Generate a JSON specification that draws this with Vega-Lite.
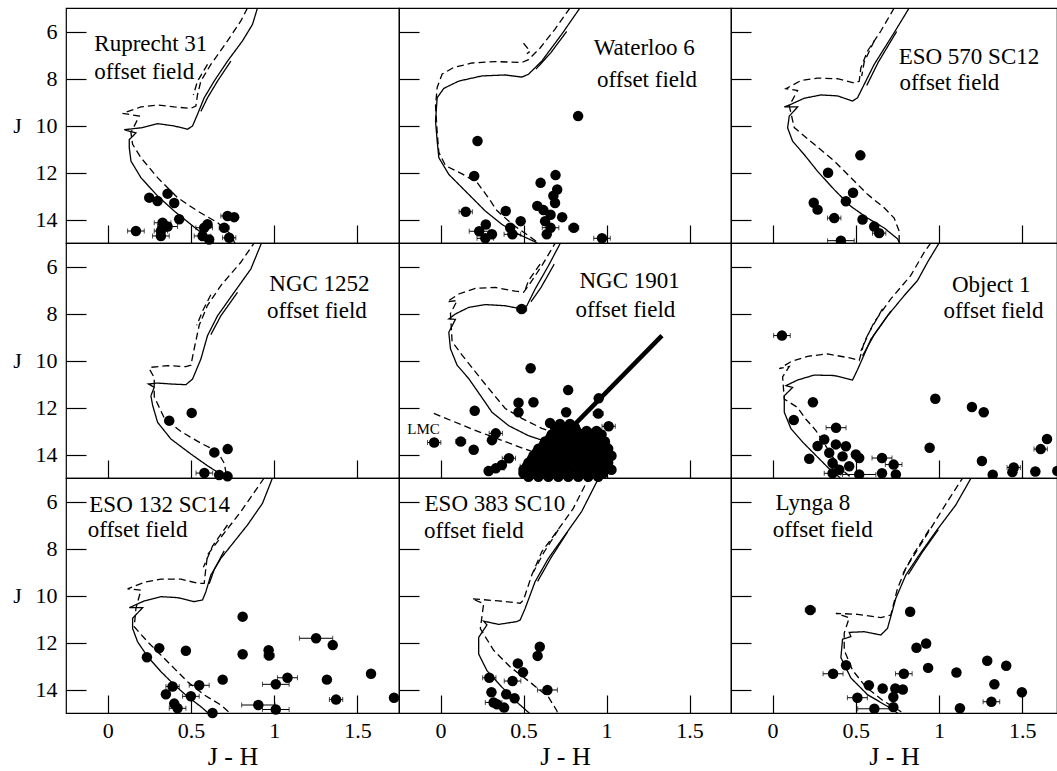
{
"$schema": "https://vega.github.io/schema/vega-lite/v6.json",
"background": "white",
"padding": {"left": 12, "top": 7, "right": 0, "bottom": 0},
"columns": 3,
"spacing": 0,
"bounds": "flush",
"config": {
  "view": {"stroke": "black", "strokeWidth": 1.2},
  "axis": {"domain": false, "ticks": false, "tickSize": 0, "grid": true, "gridColor": "black", "gridWidth": 1.2, "gridOpacity": 1, "labelFont": "Liberation Serif", "labelFontSize": 22, "labelColor": "black", "titleFont": "Liberation Serif", "titleFontSize": 22, "titleFontWeight": "normal", "titleColor": "black", "labelFlush": false, "labelOverlap": false}
},
"datasets": {
"iso": [
{"p":1,"k":"A","iso":"A","x":0.90,"j":5.0},{"p":1,"k":"A","iso":"A","x":0.87,"j":5.7},{"p":1,"k":"A","iso":"A","x":0.81,"j":6.4},{"p":1,"k":"A","iso":"A","x":0.72,"j":7.26},{"p":1,"k":"A","iso":"A","x":0.64,"j":8.11},{"p":1,"k":"A","iso":"A","x":0.58,"j":8.82},{"p":1,"k":"A","iso":"A","x":0.54,"j":9.52},{"p":1,"k":"A","iso":"A","x":0.51,"j":10.02},{"p":1,"k":"A","iso":"A","x":0.48,"j":10.16},{"p":1,"k":"A","iso":"A","x":0.40,"j":10.02},{"p":1,"k":"A","iso":"A","x":0.30,"j":9.92},{"p":1,"k":"A","iso":"A","x":0.21,"j":10.09},{"p":1,"k":"A","iso":"A","x":0.10,"j":10.18},{"p":1,"k":"A","iso":"A","x":0.17,"j":10.32},{"p":1,"k":"A","iso":"A","x":0.13,"j":10.6},{"p":1,"k":"A","iso":"A","x":0.13,"j":10.94},{"p":1,"k":"A","iso":"A","x":0.14,"j":11.51},{"p":1,"k":"A","iso":"A","x":0.20,"j":12.22},{"p":1,"k":"A","iso":"A","x":0.30,"j":13.0},{"p":1,"k":"A","iso":"A","x":0.40,"j":13.64},{"p":1,"k":"A","iso":"A","x":0.50,"j":14.21},{"p":1,"k":"A","iso":"A","x":0.60,"j":14.77},{"p":1,"k":"A","iso":"A","x":0.65,"j":15.1},
{"p":1,"k":"Aa","iso":"A","x":0.74,"j":7.26},{"p":1,"k":"Aa","iso":"A","x":0.66,"j":8.11},{"p":1,"k":"Aa","iso":"A","x":0.60,"j":8.82},{"p":1,"k":"Aa","iso":"A","x":0.56,"j":9.4},
{"p":1,"k":"B","iso":"B","x":0.84,"j":5.0},{"p":1,"k":"B","iso":"B","x":0.80,"j":5.55},{"p":1,"k":"B","iso":"B","x":0.72,"j":6.4},{"p":1,"k":"B","iso":"B","x":0.62,"j":7.4},{"p":1,"k":"B","iso":"B","x":0.56,"j":8.11},{"p":1,"k":"B","iso":"B","x":0.54,"j":8.68},{"p":1,"k":"B","iso":"B","x":0.53,"j":9.17},{"p":1,"k":"B","iso":"B","x":0.50,"j":9.27},{"p":1,"k":"B","iso":"B","x":0.40,"j":9.21},{"p":1,"k":"B","iso":"B","x":0.30,"j":9.13},{"p":1,"k":"B","iso":"B","x":0.20,"j":9.21},{"p":1,"k":"B","iso":"B","x":0.09,"j":9.48},{"p":1,"k":"B","iso":"B","x":0.19,"j":9.6},{"p":1,"k":"B","iso":"B","x":0.14,"j":10.3},{"p":1,"k":"B","iso":"B","x":0.15,"j":10.8},{"p":1,"k":"B","iso":"B","x":0.20,"j":11.37},{"p":1,"k":"B","iso":"B","x":0.30,"j":12.22},{"p":1,"k":"B","iso":"B","x":0.42,"j":13.07},{"p":1,"k":"B","iso":"B","x":0.54,"j":13.64},{"p":1,"k":"B","iso":"B","x":0.66,"j":14.13},{"p":1,"k":"B","iso":"B","x":0.74,"j":14.63},{"p":1,"k":"B","iso":"B","x":0.77,"j":15.1},
{"p":1,"k":"Ba","iso":"B","x":0.60,"j":7.4},{"p":1,"k":"Ba","iso":"B","x":0.54,"j":8.11},{"p":1,"k":"Ba","iso":"B","x":0.515,"j":8.7},

{"p":2,"k":"A","iso":"A","x":0.84,"j":5.0},{"p":2,"k":"A","iso":"A","x":0.73,"j":6.12},{"p":2,"k":"A","iso":"A","x":0.61,"j":7.26},{"p":2,"k":"A","iso":"A","x":0.53,"j":7.82},{"p":2,"k":"A","iso":"A","x":0.49,"j":7.94},{"p":2,"k":"A","iso":"A","x":0.39,"j":7.85},{"p":2,"k":"A","iso":"A","x":0.25,"j":7.89},{"p":2,"k":"A","iso":"A","x":0.11,"j":8.11},{"p":2,"k":"A","iso":"A","x":0.02,"j":8.42},{"p":2,"k":"A","iso":"A","x":-0.02,"j":8.82},{"p":2,"k":"A","iso":"A","x":-0.03,"j":9.81},{"p":2,"k":"A","iso":"A","x":-0.02,"j":10.66},{"p":2,"k":"A","iso":"A","x":-0.01,"j":11.37},{"p":2,"k":"A","iso":"A","x":0.05,"j":12.08},{"p":2,"k":"A","iso":"A","x":0.15,"j":12.79},{"p":2,"k":"A","iso":"A","x":0.27,"j":13.64},{"p":2,"k":"A","iso":"A","x":0.37,"j":14.21},{"p":2,"k":"A","iso":"A","x":0.47,"j":14.63},{"p":2,"k":"A","iso":"A","x":0.57,"j":14.95},{"p":2,"k":"A","iso":"A","x":0.60,"j":15.1},
{"p":2,"k":"Aa","iso":"A","x":0.76,"j":6.0},{"p":2,"k":"Aa","iso":"A","x":0.665,"j":6.9},{"p":2,"k":"Aa","iso":"A","x":0.575,"j":7.6},
{"p":2,"k":"B","iso":"B","x":0.78,"j":5.0},{"p":2,"k":"B","iso":"B","x":0.69,"j":5.9},{"p":2,"k":"B","iso":"B","x":0.60,"j":6.7},{"p":2,"k":"B","iso":"B","x":0.53,"j":7.2},{"p":2,"k":"B","iso":"B","x":0.49,"j":7.32},{"p":2,"k":"B","iso":"B","x":0.33,"j":7.28},{"p":2,"k":"B","iso":"B","x":0.19,"j":7.34},{"p":2,"k":"B","iso":"B","x":0.08,"j":7.53},{"p":2,"k":"B","iso":"B","x":0.01,"j":7.81},{"p":2,"k":"B","iso":"B","x":-0.02,"j":8.38},{"p":2,"k":"B","iso":"B","x":-0.03,"j":9.16},{"p":2,"k":"B","iso":"B","x":-0.02,"j":10.29},{"p":2,"k":"B","iso":"B","x":-0.01,"j":11.14},{"p":2,"k":"B","iso":"B","x":0.03,"j":11.71},{"p":2,"k":"B","iso":"B","x":0.13,"j":12.06},{"p":2,"k":"B","iso":"B","x":0.22,"j":12.42},{"p":2,"k":"B","iso":"B","x":0.28,"j":12.99},{"p":2,"k":"B","iso":"B","x":0.34,"j":13.62},{"p":2,"k":"B","iso":"B","x":0.43,"j":14.19},{"p":2,"k":"B","iso":"B","x":0.53,"j":14.69},{"p":2,"k":"B","iso":"B","x":0.61,"j":15.1},
{"p":2,"k":"Ba","iso":"B","x":0.50,"j":6.5},{"p":2,"k":"Ba","iso":"B","x":0.54,"j":6.84},{"p":2,"k":"Ba","iso":"B","x":0.52,"j":6.95},

{"p":3,"k":"A","iso":"A","x":0.82,"j":5.0},{"p":3,"k":"A","iso":"A","x":0.73,"j":6.05},{"p":3,"k":"A","iso":"A","x":0.61,"j":7.4},{"p":3,"k":"A","iso":"A","x":0.54,"j":8.39},{"p":3,"k":"A","iso":"A","x":0.51,"j":8.82},{"p":3,"k":"A","iso":"A","x":0.48,"j":8.96},{"p":3,"k":"A","iso":"A","x":0.39,"j":8.74},{"p":3,"k":"A","iso":"A","x":0.29,"j":8.70},{"p":3,"k":"A","iso":"A","x":0.19,"j":8.84},{"p":3,"k":"A","iso":"A","x":0.11,"j":9.10},{"p":3,"k":"A","iso":"A","x":0.07,"j":9.21},{"p":3,"k":"A","iso":"A","x":0.15,"j":9.21},{"p":3,"k":"A","iso":"A","x":0.10,"j":9.6},{"p":3,"k":"A","iso":"A","x":0.09,"j":10.1},{"p":3,"k":"A","iso":"A","x":0.12,"j":10.67},{"p":3,"k":"A","iso":"A","x":0.19,"j":11.24},{"p":3,"k":"A","iso":"A","x":0.27,"j":11.95},{"p":3,"k":"A","iso":"A","x":0.37,"j":12.73},{"p":3,"k":"A","iso":"A","x":0.47,"j":13.44},{"p":3,"k":"A","iso":"A","x":0.57,"j":13.94},{"p":3,"k":"A","iso":"A","x":0.67,"j":14.36},{"p":3,"k":"A","iso":"A","x":0.75,"j":14.82},{"p":3,"k":"A","iso":"A","x":0.77,"j":15.1},
{"p":3,"k":"Aa","iso":"A","x":0.745,"j":6.0},{"p":3,"k":"Aa","iso":"A","x":0.635,"j":7.3},{"p":3,"k":"Aa","iso":"A","x":0.565,"j":8.3},
{"p":3,"k":"B","iso":"B","x":0.73,"j":5.0},{"p":3,"k":"B","iso":"B","x":0.65,"j":5.98},{"p":3,"k":"B","iso":"B","x":0.57,"j":6.83},{"p":3,"k":"B","iso":"B","x":0.53,"j":7.55},{"p":3,"k":"B","iso":"B","x":0.52,"j":8.12},{"p":3,"k":"B","iso":"B","x":0.49,"j":8.19},{"p":3,"k":"B","iso":"B","x":0.39,"j":8.01},{"p":3,"k":"B","iso":"B","x":0.27,"j":7.98},{"p":3,"k":"B","iso":"B","x":0.17,"j":8.09},{"p":3,"k":"B","iso":"B","x":0.08,"j":8.43},{"p":3,"k":"B","iso":"B","x":0.15,"j":8.51},{"p":3,"k":"B","iso":"B","x":0.10,"j":9.16},{"p":3,"k":"B","iso":"B","x":0.13,"j":10.09},{"p":3,"k":"B","iso":"B","x":0.25,"j":10.8},{"p":3,"k":"B","iso":"B","x":0.37,"j":11.51},{"p":3,"k":"B","iso":"B","x":0.47,"j":12.22},{"p":3,"k":"B","iso":"B","x":0.57,"j":12.93},{"p":3,"k":"B","iso":"B","x":0.67,"j":13.5},{"p":3,"k":"B","iso":"B","x":0.73,"j":13.94},{"p":3,"k":"B","iso":"B","x":0.76,"j":14.5},{"p":3,"k":"B","iso":"B","x":0.76,"j":15.1},
{"p":3,"k":"Ba","iso":"B","x":0.61,"j":6.4},{"p":3,"k":"Ba","iso":"B","x":0.55,"j":7.3},{"p":3,"k":"Ba","iso":"B","x":0.535,"j":7.9},

{"p":4,"k":"A","iso":"A","x":0.93,"j":4.9},{"p":4,"k":"A","iso":"A","x":0.86,"j":6.11},{"p":4,"k":"A","iso":"A","x":0.76,"j":7.1},{"p":4,"k":"A","iso":"A","x":0.66,"j":8.1},{"p":4,"k":"A","iso":"A","x":0.60,"j":8.94},{"p":4,"k":"A","iso":"A","x":0.56,"j":9.94},{"p":4,"k":"A","iso":"A","x":0.51,"j":10.79},{"p":4,"k":"A","iso":"A","x":0.47,"j":11.03},{"p":4,"k":"A","iso":"A","x":0.38,"j":11.0},{"p":4,"k":"A","iso":"A","x":0.30,"j":10.96},{"p":4,"k":"A","iso":"A","x":0.245,"j":11.0},{"p":4,"k":"A","iso":"A","x":0.28,"j":11.14},{"p":4,"k":"A","iso":"A","x":0.26,"j":11.5},{"p":4,"k":"A","iso":"A","x":0.27,"j":11.9},{"p":4,"k":"A","iso":"A","x":0.30,"j":12.63},{"p":4,"k":"A","iso":"A","x":0.38,"j":13.34},{"p":4,"k":"A","iso":"A","x":0.50,"j":13.98},{"p":4,"k":"A","iso":"A","x":0.60,"j":14.48},{"p":4,"k":"A","iso":"A","x":0.70,"j":14.93},{"p":4,"k":"A","iso":"A","x":0.72,"j":15.1},
{"p":4,"k":"Aa","iso":"A","x":0.78,"j":7.1},{"p":4,"k":"Aa","iso":"A","x":0.68,"j":8.1},{"p":4,"k":"Aa","iso":"A","x":0.62,"j":8.9},
{"p":4,"k":"B","iso":"B","x":0.89,"j":4.9},{"p":4,"k":"B","iso":"B","x":0.80,"j":5.82},{"p":4,"k":"B","iso":"B","x":0.68,"j":6.81},{"p":4,"k":"B","iso":"B","x":0.60,"j":7.65},{"p":4,"k":"B","iso":"B","x":0.55,"j":8.5},{"p":4,"k":"B","iso":"B","x":0.52,"j":9.5},{"p":4,"k":"B","iso":"B","x":0.50,"j":10.2},{"p":4,"k":"B","iso":"B","x":0.47,"j":10.26},{"p":4,"k":"B","iso":"B","x":0.36,"j":10.22},{"p":4,"k":"B","iso":"B","x":0.26,"j":10.29},{"p":4,"k":"B","iso":"B","x":0.25,"j":10.35},{"p":4,"k":"B","iso":"B","x":0.28,"j":10.73},{"p":4,"k":"B","iso":"B","x":0.28,"j":11.54},{"p":4,"k":"B","iso":"B","x":0.34,"j":12.45},{"p":4,"k":"B","iso":"B","x":0.44,"j":13.02},{"p":4,"k":"B","iso":"B","x":0.56,"j":13.52},{"p":4,"k":"B","iso":"B","x":0.66,"j":13.87},{"p":4,"k":"B","iso":"B","x":0.70,"j":14.37},{"p":4,"k":"B","iso":"B","x":0.72,"j":15.1},
{"p":4,"k":"Ba","iso":"B","x":0.62,"j":7.2},{"p":4,"k":"Ba","iso":"B","x":0.57,"j":7.9},{"p":4,"k":"Ba","iso":"B","x":0.535,"j":8.5},

{"p":5,"k":"A","iso":"A","x":0.73,"j":4.9},{"p":5,"k":"A","iso":"A","x":0.65,"j":5.97},{"p":5,"k":"A","iso":"A","x":0.57,"j":6.96},{"p":5,"k":"A","iso":"A","x":0.52,"j":7.67},{"p":5,"k":"A","iso":"A","x":0.49,"j":7.81},{"p":5,"k":"A","iso":"A","x":0.39,"j":7.67},{"p":5,"k":"A","iso":"A","x":0.27,"j":7.62},{"p":5,"k":"A","iso":"A","x":0.17,"j":7.74},{"p":5,"k":"A","iso":"A","x":0.09,"j":8.02},{"p":5,"k":"A","iso":"A","x":0.05,"j":8.23},{"p":5,"k":"A","iso":"A","x":0.09,"j":8.25},{"p":5,"k":"A","iso":"A","x":0.05,"j":8.8},{"p":5,"k":"A","iso":"A","x":0.06,"j":9.5},{"p":5,"k":"A","iso":"A","x":0.10,"j":10.2},{"p":5,"k":"A","iso":"A","x":0.17,"j":10.77},{"p":5,"k":"A","iso":"A","x":0.24,"j":11.48},{"p":5,"k":"A","iso":"A","x":0.31,"j":12.2},{"p":5,"k":"A","iso":"A","x":0.41,"j":12.77},{"p":5,"k":"A","iso":"A","x":0.53,"j":13.2},{"p":5,"k":"A","iso":"A","x":0.65,"j":13.48},{"p":5,"k":"A","iso":"A","x":0.77,"j":14.0},{"p":5,"k":"A","iso":"A","x":0.85,"j":14.7},{"p":5,"k":"A","iso":"A","x":0.87,"j":15.1},
{"p":5,"k":"Aa","iso":"A","x":0.685,"j":5.9},{"p":5,"k":"Aa","iso":"A","x":0.605,"j":6.9},{"p":5,"k":"Aa","iso":"A","x":0.545,"j":7.5},
{"p":5,"k":"B","iso":"B","x":0.70,"j":4.9},{"p":5,"k":"B","iso":"B","x":0.61,"j":5.97},{"p":5,"k":"B","iso":"B","x":0.53,"j":6.82},{"p":5,"k":"B","iso":"B","x":0.50,"j":7.1},{"p":5,"k":"B","iso":"B","x":0.45,"j":7.05},{"p":5,"k":"B","iso":"B","x":0.33,"j":6.89},{"p":5,"k":"B","iso":"B","x":0.21,"j":6.93},{"p":5,"k":"B","iso":"B","x":0.11,"j":7.17},{"p":5,"k":"B","iso":"B","x":0.04,"j":7.5},{"p":5,"k":"B","iso":"B","x":0.10,"j":7.45},{"p":5,"k":"B","iso":"B","x":0.06,"j":8.0},{"p":5,"k":"B","iso":"B","x":0.07,"j":9.2},{"p":5,"k":"B","iso":"B","x":0.13,"j":9.77},{"p":5,"k":"B","iso":"B","x":0.21,"j":10.48},{"p":5,"k":"B","iso":"B","x":0.29,"j":11.19},{"p":5,"k":"B","iso":"B","x":0.39,"j":12.04},{"p":5,"k":"B","iso":"B","x":0.49,"j":12.46},{"p":5,"k":"B","iso":"B","x":0.61,"j":12.89},{"p":5,"k":"B","iso":"B","x":0.79,"j":13.3},{"p":5,"k":"B","iso":"B","x":0.95,"j":13.9},
{"p":5,"k":"Ba","iso":"B","x":0.60,"j":5.9},{"p":5,"k":"Ba","iso":"B","x":0.53,"j":6.6},{"p":5,"k":"Ba","iso":"B","x":0.51,"j":7.0},
{"p":5,"k":"L","iso":"B","x":-0.04,"j":12.25},{"p":5,"k":"L","iso":"B","x":0.20,"j":12.95},{"p":5,"k":"L","iso":"B","x":0.51,"j":13.77},{"p":5,"k":"L","iso":"B","x":0.69,"j":14.19},

{"p":6,"k":"A","iso":"A","x":1.00,"j":5.0},{"p":6,"k":"A","iso":"A","x":0.93,"j":5.82},{"p":6,"k":"A","iso":"A","x":0.87,"j":6.6},{"p":6,"k":"A","iso":"A","x":0.79,"j":7.24},{"p":6,"k":"A","iso":"A","x":0.69,"j":8.1},{"p":6,"k":"A","iso":"A","x":0.59,"j":9.1},{"p":6,"k":"A","iso":"A","x":0.51,"j":10.39},{"p":6,"k":"A","iso":"A","x":0.48,"j":10.83},{"p":6,"k":"A","iso":"A","x":0.37,"j":10.64},{"p":6,"k":"A","iso":"A","x":0.25,"j":10.62},{"p":6,"k":"A","iso":"A","x":0.15,"j":10.83},{"p":6,"k":"A","iso":"A","x":0.08,"j":11.07},{"p":6,"k":"A","iso":"A","x":0.12,"j":11.15},{"p":6,"k":"A","iso":"A","x":0.07,"j":11.5},{"p":6,"k":"A","iso":"A","x":0.07,"j":12.2},{"p":6,"k":"A","iso":"A","x":0.11,"j":12.9},{"p":6,"k":"A","iso":"A","x":0.18,"j":13.47},{"p":6,"k":"A","iso":"A","x":0.26,"j":14.04},{"p":6,"k":"A","iso":"A","x":0.34,"j":14.61},{"p":6,"k":"A","iso":"A","x":0.40,"j":14.96},{"p":6,"k":"A","iso":"A","x":0.42,"j":15.1},
{"p":6,"k":"Aa","iso":"A","x":0.71,"j":7.9},{"p":6,"k":"Aa","iso":"A","x":0.61,"j":8.9},{"p":6,"k":"Aa","iso":"A","x":0.54,"j":9.8},
{"p":6,"k":"B","iso":"B","x":0.95,"j":5.0},{"p":6,"k":"B","iso":"B","x":0.91,"j":5.4},{"p":6,"k":"B","iso":"B","x":0.83,"j":6.38},{"p":6,"k":"B","iso":"B","x":0.71,"j":7.38},{"p":6,"k":"B","iso":"B","x":0.61,"j":8.37},{"p":6,"k":"B","iso":"B","x":0.55,"j":9.22},{"p":6,"k":"B","iso":"B","x":0.52,"j":10.0},{"p":6,"k":"B","iso":"B","x":0.47,"j":9.9},{"p":6,"k":"B","iso":"B","x":0.33,"j":9.72},{"p":6,"k":"B","iso":"B","x":0.21,"j":9.82},{"p":6,"k":"B","iso":"B","x":0.11,"j":10.05},{"p":6,"k":"B","iso":"B","x":0.04,"j":10.35},{"p":6,"k":"B","iso":"B","x":0.10,"j":10.25},{"p":6,"k":"B","iso":"B","x":0.06,"j":10.7},{"p":6,"k":"B","iso":"B","x":0.07,"j":11.64},{"p":6,"k":"B","iso":"B","x":0.15,"j":12.0},{"p":6,"k":"B","iso":"B","x":0.20,"j":12.5},{"p":6,"k":"B","iso":"B","x":0.26,"j":12.98},{"p":6,"k":"B","iso":"B","x":0.35,"j":13.98},{"p":6,"k":"B","iso":"B","x":0.40,"j":14.55},{"p":6,"k":"B","iso":"B","x":0.46,"j":14.91},{"p":6,"k":"B","iso":"B","x":0.47,"j":15.1},
{"p":6,"k":"Ba","iso":"B","x":0.66,"j":7.8},{"p":6,"k":"Ba","iso":"B","x":0.58,"j":8.8},{"p":6,"k":"Ba","iso":"B","x":0.53,"j":9.6},

{"p":7,"k":"A","iso":"A","x":0.99,"j":5.0},{"p":7,"k":"A","iso":"A","x":0.93,"j":6.08},{"p":7,"k":"A","iso":"A","x":0.84,"j":7.0},{"p":7,"k":"A","iso":"A","x":0.76,"j":7.71},{"p":7,"k":"A","iso":"A","x":0.68,"j":8.42},{"p":7,"k":"A","iso":"A","x":0.62,"j":9.13},{"p":7,"k":"A","iso":"A","x":0.59,"j":9.84},{"p":7,"k":"A","iso":"A","x":0.57,"j":10.19},{"p":7,"k":"A","iso":"A","x":0.52,"j":10.26},{"p":7,"k":"A","iso":"A","x":0.42,"j":10.09},{"p":7,"k":"A","iso":"A","x":0.32,"j":10.05},{"p":7,"k":"A","iso":"A","x":0.22,"j":10.23},{"p":7,"k":"A","iso":"A","x":0.13,"j":10.52},{"p":7,"k":"A","iso":"A","x":0.21,"j":10.52},{"p":7,"k":"A","iso":"A","x":0.15,"j":10.97},{"p":7,"k":"A","iso":"A","x":0.15,"j":11.4},{"p":7,"k":"A","iso":"A","x":0.18,"j":11.97},{"p":7,"k":"A","iso":"A","x":0.24,"j":12.6},{"p":7,"k":"A","iso":"A","x":0.32,"j":13.24},{"p":7,"k":"A","iso":"A","x":0.40,"j":13.8},{"p":7,"k":"A","iso":"A","x":0.48,"j":14.3},{"p":7,"k":"A","iso":"A","x":0.56,"j":14.73},{"p":7,"k":"A","iso":"A","x":0.62,"j":15.1},
{"p":7,"k":"Aa","iso":"A","x":0.70,"j":8.1},{"p":7,"k":"Aa","iso":"A","x":0.64,"j":8.9},{"p":7,"k":"Aa","iso":"A","x":0.61,"j":9.5},
{"p":7,"k":"B","iso":"B","x":0.94,"j":5.0},{"p":7,"k":"B","iso":"B","x":0.80,"j":6.43},{"p":7,"k":"B","iso":"B","x":0.66,"j":7.71},{"p":7,"k":"B","iso":"B","x":0.60,"j":8.27},{"p":7,"k":"B","iso":"B","x":0.59,"j":8.84},{"p":7,"k":"B","iso":"B","x":0.58,"j":9.48},{"p":7,"k":"B","iso":"B","x":0.54,"j":9.48},{"p":7,"k":"B","iso":"B","x":0.44,"j":9.3},{"p":7,"k":"B","iso":"B","x":0.32,"j":9.3},{"p":7,"k":"B","iso":"B","x":0.22,"j":9.44},{"p":7,"k":"B","iso":"B","x":0.12,"j":9.72},{"p":7,"k":"B","iso":"B","x":0.20,"j":9.77},{"p":7,"k":"B","iso":"B","x":0.17,"j":10.55},{"p":7,"k":"B","iso":"B","x":0.16,"j":11.33},{"p":7,"k":"B","iso":"B","x":0.24,"j":11.97},{"p":7,"k":"B","iso":"B","x":0.32,"j":12.53},{"p":7,"k":"B","iso":"B","x":0.40,"j":13.1},{"p":7,"k":"B","iso":"B","x":0.48,"j":13.67},{"p":7,"k":"B","iso":"B","x":0.58,"j":14.23},{"p":7,"k":"B","iso":"B","x":0.68,"j":14.66},{"p":7,"k":"B","iso":"B","x":0.75,"j":15.1},
{"p":7,"k":"Ba","iso":"B","x":0.72,"j":7.0},{"p":7,"k":"Ba","iso":"B","x":0.63,"j":7.9},{"p":7,"k":"Ba","iso":"B","x":0.575,"j":8.8},

{"p":8,"k":"A","iso":"A","x":0.96,"j":4.9},{"p":8,"k":"A","iso":"A","x":0.85,"j":6.43},{"p":8,"k":"A","iso":"A","x":0.75,"j":7.43},{"p":8,"k":"A","iso":"A","x":0.65,"j":8.42},{"p":8,"k":"A","iso":"A","x":0.57,"j":9.41},{"p":8,"k":"A","iso":"A","x":0.51,"j":10.55},{"p":8,"k":"A","iso":"A","x":0.48,"j":11.04},{"p":8,"k":"A","iso":"A","x":0.46,"j":11.11},{"p":8,"k":"A","iso":"A","x":0.35,"j":11.23},{"p":8,"k":"A","iso":"A","x":0.26,"j":11.09},{"p":8,"k":"A","iso":"A","x":0.28,"j":11.25},{"p":8,"k":"A","iso":"A","x":0.23,"j":11.78},{"p":8,"k":"A","iso":"A","x":0.23,"j":12.49},{"p":8,"k":"A","iso":"A","x":0.28,"j":13.2},{"p":8,"k":"A","iso":"A","x":0.37,"j":13.9},{"p":8,"k":"A","iso":"A","x":0.47,"j":14.6},{"p":8,"k":"A","iso":"A","x":0.55,"j":15.1},
{"p":8,"k":"Aa","iso":"A","x":0.765,"j":7.3},{"p":8,"k":"Aa","iso":"A","x":0.665,"j":8.4},{"p":8,"k":"Aa","iso":"A","x":0.585,"j":9.4},
{"p":8,"k":"B","iso":"B","x":0.90,"j":4.9},{"p":8,"k":"B","iso":"B","x":0.80,"j":6.29},{"p":8,"k":"B","iso":"B","x":0.70,"j":7.28},{"p":8,"k":"B","iso":"B","x":0.61,"j":8.14},{"p":8,"k":"B","iso":"B","x":0.55,"j":9.13},{"p":8,"k":"B","iso":"B","x":0.50,"j":10.19},{"p":8,"k":"B","iso":"B","x":0.48,"j":10.33},{"p":8,"k":"B","iso":"B","x":0.35,"j":10.23},{"p":8,"k":"B","iso":"B","x":0.19,"j":10.14},{"p":8,"k":"B","iso":"B","x":0.26,"j":10.35},{"p":8,"k":"B","iso":"B","x":0.24,"j":11.41},{"p":8,"k":"B","iso":"B","x":0.32,"j":12.33},{"p":8,"k":"B","iso":"B","x":0.42,"j":13.04},{"p":8,"k":"B","iso":"B","x":0.55,"j":13.75},{"p":8,"k":"B","iso":"B","x":0.65,"j":14.32},{"p":8,"k":"B","iso":"B","x":0.70,"j":14.89},{"p":8,"k":"B","iso":"B","x":0.71,"j":15.1},
{"p":8,"k":"Ba","iso":"B","x":0.71,"j":7.2},{"p":8,"k":"Ba","iso":"B","x":0.62,"j":8.2},{"p":8,"k":"Ba","iso":"B","x":0.56,"j":9.0},

{"p":9,"k":"A","iso":"A","x":1.20,"j":4.9},{"p":9,"k":"A","iso":"A","x":1.10,"j":6.15},{"p":9,"k":"A","iso":"A","x":0.98,"j":7.28},{"p":9,"k":"A","iso":"A","x":0.88,"j":8.28},{"p":9,"k":"A","iso":"A","x":0.80,"j":9.13},{"p":9,"k":"A","iso":"A","x":0.74,"j":10.12},{"p":9,"k":"A","iso":"A","x":0.69,"j":11.4},{"p":9,"k":"A","iso":"A","x":0.65,"j":11.68},{"p":9,"k":"A","iso":"A","x":0.55,"j":11.54},{"p":9,"k":"A","iso":"A","x":0.46,"j":11.57},{"p":9,"k":"A","iso":"A","x":0.47,"j":11.75},{"p":9,"k":"A","iso":"A","x":0.42,"j":11.86},{"p":9,"k":"A","iso":"A","x":0.41,"j":12.64},{"p":9,"k":"A","iso":"A","x":0.47,"j":13.51},{"p":9,"k":"A","iso":"A","x":0.57,"j":14.22},{"p":9,"k":"A","iso":"A","x":0.69,"j":14.72},{"p":9,"k":"A","iso":"A","x":0.77,"j":15.1},
{"p":9,"k":"Aa","iso":"A","x":0.995,"j":7.2},{"p":9,"k":"Aa","iso":"A","x":0.895,"j":8.2},{"p":9,"k":"Aa","iso":"A","x":0.815,"j":9.1},
{"p":9,"k":"B","iso":"B","x":1.15,"j":4.9},{"p":9,"k":"B","iso":"B","x":1.05,"j":6.0},{"p":9,"k":"B","iso":"B","x":0.90,"j":7.71},{"p":9,"k":"B","iso":"B","x":0.80,"j":8.84},{"p":9,"k":"B","iso":"B","x":0.75,"j":9.7},{"p":9,"k":"B","iso":"B","x":0.71,"j":10.83},{"p":9,"k":"B","iso":"B","x":0.65,"j":10.94},{"p":9,"k":"B","iso":"B","x":0.51,"j":10.8},{"p":9,"k":"B","iso":"B","x":0.38,"j":10.76},{"p":9,"k":"B","iso":"B","x":0.46,"j":10.95},{"p":9,"k":"B","iso":"B","x":0.43,"j":11.6},{"p":9,"k":"B","iso":"B","x":0.43,"j":12.33},{"p":9,"k":"B","iso":"B","x":0.48,"j":13.18},{"p":9,"k":"B","iso":"B","x":0.56,"j":13.89},{"p":9,"k":"B","iso":"B","x":0.66,"j":14.46},{"p":9,"k":"B","iso":"B","x":0.76,"j":14.89},{"p":9,"k":"B","iso":"B","x":0.81,"j":15.17},
{"p":9,"k":"Ba","iso":"B","x":0.94,"j":7.2},{"p":9,"k":"Ba","iso":"B","x":0.85,"j":8.2},{"p":9,"k":"Ba","iso":"B","x":0.78,"j":9.1}
],
"vec": [{"p":5,"x":1.334,"j":8.94},{"p":5,"x":0.683,"j":13.62}],
"lab": [
{"p":1,"t":"Ruprecht 31","x":-0.08,"j":6.83},{"p":1,"t":"offset field","x":-0.08,"j":8.02},
{"p":2,"t":"Waterloo 6","x":0.923,"j":7.01},{"p":2,"t":"offset field","x":0.943,"j":8.36},
{"p":3,"t":"ESO 570 SC12","x":0.757,"j":7.38},{"p":3,"t":"offset field","x":0.762,"j":8.48},
{"p":4,"t":"NGC 1252","x":0.971,"j":7.03},{"p":4,"t":"offset field","x":0.957,"j":8.19},
{"p":5,"t":"NGC 1901","x":0.837,"j":6.93},{"p":5,"t":"offset field","x":0.813,"j":8.14},
{"p":6,"t":"Object 1","x":1.077,"j":7.07},{"p":6,"t":"offset field","x":1.027,"j":8.19},
{"p":7,"t":"ESO 132 SC14","x":-0.11,"j":6.46},{"p":7,"t":"offset field","x":-0.12,"j":7.52},
{"p":8,"t":"ESO 383 SC10","x":-0.096,"j":6.4},{"p":8,"t":"offset field","x":-0.10,"j":7.57},
{"p":9,"t":"Lynga 8","x":0.018,"j":6.36},{"p":9,"t":"offset field","x":0.001,"j":7.5}
],
"lmc": [{"p":5,"t":"LMC","x":-0.2,"j":13.13}],
"pts": [
{"p":1,"x":0.25,"j":13.07,"e":0},{"p":1,"x":0.30,"j":13.21,"e":0},{"p":1,"x":0.36,"j":12.9,"e":0},{"p":1,"x":0.40,"j":13.3,"e":0},{"p":1,"x":0.43,"j":13.99,"e":0},{"p":1,"x":0.33,"j":14.14,"e":0.05},{"p":1,"x":0.32,"j":14.49,"e":0.04},{"p":1,"x":0.17,"j":14.49,"e":0.05},{"p":1,"x":0.32,"j":14.7,"e":0.05},{"p":1,"x":0.58,"j":14.35,"e":0.05},{"p":1,"x":0.60,"j":14.2,"e":0},{"p":1,"x":0.57,"j":14.7,"e":0.05},{"p":1,"x":0.70,"j":14.35,"e":0.03},{"p":1,"x":0.72,"j":13.85,"e":0.04},{"p":1,"x":0.76,"j":13.9,"e":0},{"p":1,"x":0.73,"j":14.78,"e":0.04},{"p":1,"x":0.61,"j":14.85,"e":0},{"p":1,"x":0.36,"j":14.3,"e":0.06},
{"p":2,"x":0.829,"j":9.60,"e":0},{"p":2,"x":0.223,"j":10.66,"e":0},{"p":2,"x":0.203,"j":12.15,"e":0},{"p":2,"x":0.152,"j":13.67,"e":0.04},{"p":2,"x":0.603,"j":12.44,"e":0},{"p":2,"x":0.693,"j":12.11,"e":0},{"p":2,"x":0.703,"j":12.72,"e":0},{"p":2,"x":0.68,"j":12.99,"e":0},{"p":2,"x":0.583,"j":13.42,"e":0},{"p":2,"x":0.663,"j":13.8,"e":0},{"p":2,"x":0.733,"j":13.9,"e":0},{"p":2,"x":0.663,"j":14.35,"e":0.05},{"p":2,"x":0.803,"j":14.35,"e":0.03},{"p":2,"x":0.973,"j":14.8,"e":0.05},{"p":2,"x":0.393,"j":13.64,"e":0},{"p":2,"x":0.483,"j":14.07,"e":0},{"p":2,"x":0.433,"j":14.63,"e":0.05},{"p":2,"x":0.273,"j":14.21,"e":0},{"p":2,"x":0.233,"j":14.5,"e":0.06},{"p":2,"x":0.31,"j":14.63,"e":0},{"p":2,"x":0.27,"j":14.8,"e":0.05},{"p":2,"x":0.42,"j":14.35,"e":0},{"p":2,"x":0.63,"j":14.07,"e":0},{"p":2,"x":0.64,"j":14.63,"e":0},{"p":2,"x":0.62,"j":13.6,"e":0},{"p":2,"x":0.69,"j":13.3,"e":0},
{"p":3,"x":0.527,"j":11.27,"e":0},{"p":3,"x":0.333,"j":12.01,"e":0},{"p":3,"x":0.483,"j":12.86,"e":0},{"p":3,"x":0.44,"j":13.22,"e":0},{"p":3,"x":0.247,"j":13.29,"e":0},{"p":3,"x":0.27,"j":13.58,"e":0},{"p":3,"x":0.37,"j":13.94,"e":0.04},{"p":3,"x":0.54,"j":14.0,"e":0},{"p":3,"x":0.61,"j":14.3,"e":0},{"p":3,"x":0.64,"j":14.58,"e":0.04},{"p":3,"x":0.41,"j":14.9,"e":0.08},
{"p":4,"x":0.505,"j":12.23,"e":0},{"p":4,"x":0.37,"j":12.56,"e":0},{"p":4,"x":0.641,"j":13.91,"e":0},{"p":4,"x":0.721,"j":13.77,"e":0},{"p":4,"x":0.581,"j":14.79,"e":0.05},{"p":4,"x":0.67,"j":14.87,"e":0},{"p":4,"x":0.72,"j":14.93,"e":0},
{"p":5,"x":0.489,"j":7.81,"e":0.03},{"p":5,"x":0.543,"j":10.33,"e":0},{"p":5,"x":0.769,"j":11.26,"e":0},{"p":5,"x":0.953,"j":11.61,"e":0},{"p":5,"x":0.56,"j":11.78,"e":0},{"p":5,"x":0.47,"j":11.8,"e":0},{"p":5,"x":0.47,"j":12.2,"e":0},{"p":5,"x":0.757,"j":12.2,"e":0},{"p":5,"x":0.206,"j":12.14,"e":0},{"p":5,"x":0.95,"j":12.26,"e":0.03},{"p":5,"x":0.66,"j":12.66,"e":0},{"p":5,"x":0.333,"j":13.1,"e":0.04},{"p":5,"x":0.31,"j":13.39,"e":0},{"p":5,"x":0.122,"j":13.45,"e":0.03},{"p":5,"x":0.20,"j":13.8,"e":0},{"p":5,"x":-0.038,"j":13.49,"e":0.04},{"p":5,"x":0.412,"j":14.16,"e":0.04},{"p":5,"x":0.333,"j":14.59,"e":0.05},{"p":5,"x":0.37,"j":14.45,"e":0},{"p":5,"x":0.29,"j":14.7,"e":0},{"p":5,"x":1.013,"j":12.8,"e":0.04},
{"p":5,"x":0.72,"j":12.7,"e":0},{"p":5,"x":0.78,"j":12.7,"e":0},
{"p":5,"x":0.69,"j":12.85,"e":0},{"p":5,"x":0.75,"j":12.85,"e":0},{"p":5,"x":0.81,"j":12.85,"e":0},
{"p":5,"x":0.70,"j":13.0,"e":0},{"p":5,"x":0.76,"j":13.0,"e":0},{"p":5,"x":0.82,"j":13.0,"e":0},{"p":5,"x":0.88,"j":13.0,"e":0},{"p":5,"x":0.94,"j":13.0,"e":0.03},
{"p":5,"x":0.67,"j":13.15,"e":0},{"p":5,"x":0.73,"j":13.15,"e":0},{"p":5,"x":0.79,"j":13.15,"e":0},{"p":5,"x":0.85,"j":13.15,"e":0},{"p":5,"x":0.91,"j":13.15,"e":0},{"p":5,"x":0.97,"j":13.15,"e":0},
{"p":5,"x":0.66,"j":13.3,"e":0},{"p":5,"x":0.72,"j":13.3,"e":0},{"p":5,"x":0.78,"j":13.3,"e":0},{"p":5,"x":0.84,"j":13.3,"e":0},{"p":5,"x":0.90,"j":13.3,"e":0},{"p":5,"x":0.96,"j":13.3,"e":0.03},
{"p":5,"x":0.63,"j":13.45,"e":0},{"p":5,"x":0.69,"j":13.45,"e":0},{"p":5,"x":0.75,"j":13.45,"e":0},{"p":5,"x":0.81,"j":13.45,"e":0},{"p":5,"x":0.87,"j":13.45,"e":0},{"p":5,"x":0.93,"j":13.45,"e":0},{"p":5,"x":0.99,"j":13.45,"e":0},
{"p":5,"x":0.62,"j":13.6,"e":0},{"p":5,"x":0.68,"j":13.6,"e":0},{"p":5,"x":0.74,"j":13.6,"e":0},{"p":5,"x":0.80,"j":13.6,"e":0},{"p":5,"x":0.86,"j":13.6,"e":0},{"p":5,"x":0.92,"j":13.6,"e":0},{"p":5,"x":0.98,"j":13.6,"e":0.04},
{"p":5,"x":0.59,"j":13.75,"e":0},{"p":5,"x":0.65,"j":13.75,"e":0},{"p":5,"x":0.71,"j":13.75,"e":0},{"p":5,"x":0.77,"j":13.75,"e":0},{"p":5,"x":0.83,"j":13.75,"e":0},{"p":5,"x":0.89,"j":13.75,"e":0},{"p":5,"x":0.95,"j":13.75,"e":0},{"p":5,"x":1.01,"j":13.75,"e":0},
{"p":5,"x":0.58,"j":13.9,"e":0},{"p":5,"x":0.64,"j":13.9,"e":0},{"p":5,"x":0.70,"j":13.9,"e":0},{"p":5,"x":0.76,"j":13.9,"e":0},{"p":5,"x":0.82,"j":13.9,"e":0},{"p":5,"x":0.88,"j":13.9,"e":0},{"p":5,"x":0.94,"j":13.9,"e":0},{"p":5,"x":1.0,"j":13.9,"e":0.03},
{"p":5,"x":0.56,"j":14.05,"e":0},{"p":5,"x":0.62,"j":14.05,"e":0},{"p":5,"x":0.68,"j":14.05,"e":0},{"p":5,"x":0.74,"j":14.05,"e":0},{"p":5,"x":0.80,"j":14.05,"e":0},{"p":5,"x":0.86,"j":14.05,"e":0},{"p":5,"x":0.92,"j":14.05,"e":0},{"p":5,"x":0.98,"j":14.05,"e":0},{"p":5,"x":1.03,"j":14.05,"e":0},
{"p":5,"x":0.55,"j":14.2,"e":0},{"p":5,"x":0.61,"j":14.2,"e":0},{"p":5,"x":0.67,"j":14.2,"e":0},{"p":5,"x":0.73,"j":14.2,"e":0},{"p":5,"x":0.79,"j":14.2,"e":0},{"p":5,"x":0.85,"j":14.2,"e":0},{"p":5,"x":0.91,"j":14.2,"e":0},{"p":5,"x":0.97,"j":14.2,"e":0},
{"p":5,"x":0.53,"j":14.35,"e":0},{"p":5,"x":0.59,"j":14.35,"e":0},{"p":5,"x":0.65,"j":14.35,"e":0},{"p":5,"x":0.71,"j":14.35,"e":0},{"p":5,"x":0.77,"j":14.35,"e":0},{"p":5,"x":0.83,"j":14.35,"e":0},{"p":5,"x":0.89,"j":14.35,"e":0},{"p":5,"x":0.95,"j":14.35,"e":0},{"p":5,"x":1.01,"j":14.35,"e":0},
{"p":5,"x":0.52,"j":14.5,"e":0.04},{"p":5,"x":0.58,"j":14.5,"e":0},{"p":5,"x":0.64,"j":14.5,"e":0},{"p":5,"x":0.70,"j":14.5,"e":0},{"p":5,"x":0.76,"j":14.5,"e":0},{"p":5,"x":0.82,"j":14.5,"e":0},{"p":5,"x":0.88,"j":14.5,"e":0},{"p":5,"x":0.94,"j":14.5,"e":0},{"p":5,"x":1.0,"j":14.5,"e":0},
{"p":5,"x":0.50,"j":14.65,"e":0},{"p":5,"x":0.56,"j":14.65,"e":0},{"p":5,"x":0.62,"j":14.65,"e":0},{"p":5,"x":0.68,"j":14.65,"e":0},{"p":5,"x":0.74,"j":14.65,"e":0},{"p":5,"x":0.80,"j":14.65,"e":0},{"p":5,"x":0.86,"j":14.65,"e":0},{"p":5,"x":0.92,"j":14.65,"e":0},{"p":5,"x":0.98,"j":14.65,"e":0},{"p":5,"x":1.03,"j":14.65,"e":0},
{"p":5,"x":0.50,"j":14.8,"e":0},{"p":5,"x":0.56,"j":14.8,"e":0},{"p":5,"x":0.62,"j":14.8,"e":0},{"p":5,"x":0.68,"j":14.8,"e":0},{"p":5,"x":0.74,"j":14.8,"e":0},{"p":5,"x":0.80,"j":14.8,"e":0},{"p":5,"x":0.86,"j":14.8,"e":0},{"p":5,"x":0.92,"j":14.8,"e":0},{"p":5,"x":0.98,"j":14.8,"e":0},
{"p":5,"x":0.53,"j":14.95,"e":0},{"p":5,"x":0.59,"j":14.95,"e":0},{"p":5,"x":0.65,"j":14.95,"e":0},{"p":5,"x":0.71,"j":14.95,"e":0},{"p":5,"x":0.77,"j":14.95,"e":0},{"p":5,"x":0.83,"j":14.95,"e":0},{"p":5,"x":0.89,"j":14.95,"e":0},{"p":5,"x":0.95,"j":14.95,"e":0},
{"p":6,"x":0.056,"j":8.94,"e":0.05},{"p":6,"x":0.242,"j":11.78,"e":0},{"p":6,"x":0.977,"j":11.63,"e":0},{"p":6,"x":1.197,"j":11.98,"e":0},{"p":6,"x":1.268,"j":12.2,"e":0},{"p":6,"x":0.127,"j":12.53,"e":0},{"p":6,"x":0.381,"j":12.86,"e":0.06},{"p":6,"x":0.31,"j":13.36,"e":0},{"p":6,"x":0.27,"j":13.64,"e":0},{"p":6,"x":0.22,"j":14.18,"e":0},{"p":6,"x":0.38,"j":13.57,"e":0},{"p":6,"x":0.44,"j":13.65,"e":0},{"p":6,"x":0.34,"j":13.93,"e":0},{"p":6,"x":0.42,"j":14.08,"e":0},{"p":6,"x":0.50,"j":14.0,"e":0},{"p":6,"x":0.52,"j":14.15,"e":0},{"p":6,"x":0.36,"j":14.36,"e":0},{"p":6,"x":0.46,"j":14.5,"e":0},{"p":6,"x":0.40,"j":14.65,"e":0},{"p":6,"x":0.36,"j":14.8,"e":0.05},{"p":6,"x":0.52,"j":14.85,"e":0.1},{"p":6,"x":0.657,"j":14.15,"e":0.06},{"p":6,"x":0.727,"j":14.43,"e":0.05},{"p":6,"x":0.657,"j":14.8,"e":0},{"p":6,"x":0.74,"j":14.85,"e":0},{"p":6,"x":0.943,"j":13.71,"e":0},{"p":6,"x":1.257,"j":14.28,"e":0},{"p":6,"x":1.322,"j":14.86,"e":0},{"p":6,"x":1.448,"j":14.55,"e":0.04},{"p":6,"x":1.44,"j":14.75,"e":0},{"p":6,"x":1.578,"j":14.72,"e":0},{"p":6,"x":1.61,"j":13.77,"e":0.04},{"p":6,"x":1.648,"j":13.34,"e":0},{"p":6,"x":1.71,"j":14.7,"e":0},
{"p":7,"x":0.811,"j":10.9,"e":0},{"p":7,"x":1.252,"j":11.82,"e":0.1},{"p":7,"x":1.352,"j":12.11,"e":0},{"p":7,"x":0.31,"j":12.24,"e":0},{"p":7,"x":0.47,"j":12.35,"e":0},{"p":7,"x":0.236,"j":12.63,"e":0},{"p":7,"x":0.811,"j":12.5,"e":0},{"p":7,"x":0.967,"j":12.33,"e":0},{"p":7,"x":0.97,"j":12.55,"e":0.03},{"p":7,"x":1.582,"j":13.33,"e":0},{"p":7,"x":0.691,"j":13.58,"e":0},{"p":7,"x":1.08,"j":13.5,"e":0.06},{"p":7,"x":1.01,"j":13.78,"e":0.08},{"p":7,"x":1.317,"j":13.58,"e":0},{"p":7,"x":0.39,"j":13.87,"e":0.04},{"p":7,"x":0.55,"j":13.82,"e":0.06},{"p":7,"x":0.35,"j":14.2,"e":0},{"p":7,"x":0.50,"j":14.29,"e":0.05},{"p":7,"x":0.40,"j":14.6,"e":0},{"p":7,"x":0.42,"j":14.8,"e":0.05},{"p":7,"x":1.372,"j":14.43,"e":0.04},{"p":7,"x":1.72,"j":14.35,"e":0},{"p":7,"x":0.905,"j":14.66,"e":0.1},{"p":7,"x":1.01,"j":14.85,"e":0.08},{"p":7,"x":0.63,"j":15.0,"e":0},
{"p":8,"x":0.598,"j":12.18,"e":0},{"p":8,"x":0.585,"j":12.57,"e":0},{"p":8,"x":0.466,"j":12.89,"e":0},{"p":8,"x":0.497,"j":13.27,"e":0},{"p":8,"x":0.294,"j":13.5,"e":0.04},{"p":8,"x":0.434,"j":13.64,"e":0.05},{"p":8,"x":0.644,"j":14.02,"e":0.06},{"p":8,"x":0.307,"j":14.12,"e":0},{"p":8,"x":0.32,"j":14.55,"e":0.05},{"p":8,"x":0.396,"j":14.2,"e":0},{"p":8,"x":0.446,"j":14.37,"e":0},{"p":8,"x":0.383,"j":14.77,"e":0},{"p":8,"x":0.34,"j":14.63,"e":0},
{"p":9,"x":0.226,"j":10.62,"e":0.03},{"p":9,"x":0.826,"j":10.69,"e":0},{"p":9,"x":0.864,"j":12.22,"e":0},{"p":9,"x":0.922,"j":12.04,"e":0},{"p":9,"x":0.934,"j":13.08,"e":0},{"p":9,"x":1.104,"j":13.28,"e":0},{"p":9,"x":1.289,"j":12.78,"e":0},{"p":9,"x":1.403,"j":12.99,"e":0},{"p":9,"x":1.332,"j":13.78,"e":0},{"p":9,"x":1.497,"j":14.12,"e":0},{"p":9,"x":1.314,"j":14.52,"e":0.05},{"p":9,"x":1.125,"j":14.8,"e":0},{"p":9,"x":0.363,"j":13.33,"e":0.06},{"p":9,"x":0.441,"j":12.97,"e":0},{"p":9,"x":0.788,"j":13.33,"e":0.05},{"p":9,"x":0.578,"j":13.82,"e":0},{"p":9,"x":0.661,"j":13.96,"e":0},{"p":9,"x":0.737,"j":13.96,"e":0},{"p":9,"x":0.782,"j":14.0,"e":0},{"p":9,"x":0.725,"j":14.32,"e":0},{"p":9,"x":0.509,"j":14.35,"e":0.06},{"p":9,"x":0.611,"j":14.82,"e":0.1},{"p":9,"x":0.725,"j":14.75,"e":0}
]
},
"concat": [
{"width":333,"height":235,"layer":[
 {"data":{"name":"iso"},"transform":[{"filter":"datum.p==1"}],"mark":{"type":"line","clip":true,"color":"black","strokeWidth":1.3},
  "encoding":{"x":{"field":"x","type":"quantitative","scale":{"domain":[-0.25,1.75],"nice":false},"axis":{"orient":"bottom","values":[0,0.5,1,1.5],"gridDash":[18,1000],"labels":false,"title":null}},
   "y":{"field":"j","type":"quantitative","scale":{"domain":[5,15],"reverse":true,"nice":false},"axis":{"orient":"left","values":[6,8,10,12,14],"gridDash":[20,1000],"labelPadding":9,"title":"J","titleAngle":0,"titleX":-49,"titleY":117.5,"titleAlign":"center","titleBaseline":"middle"}},
   "detail":{"field":"k"},"strokeDash":{"field":"iso","type":"nominal","scale":{"domain":["A","B"],"range":[[1,0],[7,4]]},"legend":null},"order":{"value":null}}},
 {"data":{"name":"pts"},"transform":[{"filter":"datum.p==1"}],"mark":{"type":"circle","size":110,"opacity":1,"color":"black"},
  "encoding":{"x":{"field":"x","type":"quantitative","scale":{"domain":[-0.25,1.75],"nice":false},"axis":{"orient":"top","values":[0,0.5,1,1.5],"gridDash":[18,1000],"labels":false,"title":null}},
   "y":{"field":"j","type":"quantitative","scale":{"domain":[5,15],"reverse":true,"nice":false},"axis":{"orient":"right","values":[6,8,10,12,14],"gridDash":[20,1000],"labels":false,"title":null}}}},
 {"data":{"name":"pts"},"transform":[{"filter":"datum.p==1 && datum.e>0"}],"mark":{"type":"errorbar","ticks":true,"color":"black"},
  "encoding":{"x":{"field":"x","type":"quantitative","scale":{"domain":[-0.25,1.75],"nice":false},"axis":{"orient":"bottom","values":[0.25,0.75,1.25],"gridDash":[9,1000],"labels":false,"title":null}},"xError":{"field":"e"},
   "y":{"field":"j","type":"quantitative","scale":{"domain":[5,15],"reverse":true,"nice":false},"axis":{"orient":"left","values":[7,9,11,13],"gridDash":[10,1000],"labels":false,"title":null}}}},
 {"data":{"name":"lab"},"transform":[{"filter":"datum.p==1"}],"mark":{"type":"text","align":"left","baseline":"alphabetic","font":"Liberation Serif","fontSize":23,"color":"black"},
  "encoding":{"x":{"field":"x","type":"quantitative","scale":{"domain":[-0.25,1.75],"nice":false},"axis":{"orient":"top","values":[0.25,0.75,1.25],"gridDash":[9,1000],"labels":false,"title":null}},
   "y":{"field":"j","type":"quantitative","scale":{"domain":[5,15],"reverse":true,"nice":false},"axis":{"orient":"right","values":[7,9,11,13],"gridDash":[10,1000],"labels":false,"title":null}},"text":{"field":"t"}}}
],"resolve":{"axis":{"x":"independent","y":"independent"}}},

{"width":332,"height":235,"layer":[
 {"data":{"name":"iso"},"transform":[{"filter":"datum.p==2"}],"mark":{"type":"line","clip":true,"color":"black","strokeWidth":1.3},
  "encoding":{"x":{"field":"x","type":"quantitative","scale":{"domain":[-0.25,1.75],"nice":false},"axis":{"orient":"bottom","values":[0,0.5,1,1.5],"gridDash":[18,1000],"labels":false,"title":null}},
   "y":{"field":"j","type":"quantitative","scale":{"domain":[5,15],"reverse":true,"nice":false},"axis":{"orient":"left","values":[6,8,10,12,14],"gridDash":[20,1000],"labels":false,"title":null}},
   "detail":{"field":"k"},"strokeDash":{"field":"iso","type":"nominal","scale":{"domain":["A","B"],"range":[[1,0],[7,4]]},"legend":null},"order":{"value":null}}},
 {"data":{"name":"pts"},"transform":[{"filter":"datum.p==2"}],"mark":{"type":"circle","size":110,"opacity":1,"color":"black"},
  "encoding":{"x":{"field":"x","type":"quantitative","scale":{"domain":[-0.25,1.75],"nice":false},"axis":{"orient":"top","values":[0,0.5,1,1.5],"gridDash":[18,1000],"labels":false,"title":null}},
   "y":{"field":"j","type":"quantitative","scale":{"domain":[5,15],"reverse":true,"nice":false},"axis":{"orient":"right","values":[6,8,10,12,14],"gridDash":[20,1000],"labels":false,"title":null}}}},
 {"data":{"name":"pts"},"transform":[{"filter":"datum.p==2 && datum.e>0"}],"mark":{"type":"errorbar","ticks":true,"color":"black"},
  "encoding":{"x":{"field":"x","type":"quantitative","scale":{"domain":[-0.25,1.75],"nice":false},"axis":{"orient":"bottom","values":[0.25,0.75,1.25],"gridDash":[9,1000],"labels":false,"title":null}},"xError":{"field":"e"},
   "y":{"field":"j","type":"quantitative","scale":{"domain":[5,15],"reverse":true,"nice":false},"axis":{"orient":"left","values":[7,9,11,13],"gridDash":[10,1000],"labels":false,"title":null}}}},
 {"data":{"name":"lab"},"transform":[{"filter":"datum.p==2"}],"mark":{"type":"text","align":"left","baseline":"alphabetic","font":"Liberation Serif","fontSize":23,"color":"black"},
  "encoding":{"x":{"field":"x","type":"quantitative","scale":{"domain":[-0.25,1.75],"nice":false},"axis":{"orient":"top","values":[0.25,0.75,1.25],"gridDash":[9,1000],"labels":false,"title":null}},
   "y":{"field":"j","type":"quantitative","scale":{"domain":[5,15],"reverse":true,"nice":false},"axis":{"orient":"right","values":[7,9,11,13],"gridDash":[10,1000],"labels":false,"title":null}},"text":{"field":"t"}}}
],"resolve":{"axis":{"x":"independent","y":"independent"}}},

{"width":326,"height":235,"layer":[
 {"data":{"name":"iso"},"transform":[{"filter":"datum.p==3"}],"mark":{"type":"line","clip":true,"color":"black","strokeWidth":1.3},
  "encoding":{"x":{"field":"x","type":"quantitative","scale":{"domain":[-0.25,1.708],"nice":false},"axis":{"orient":"bottom","values":[0,0.5,1,1.5],"gridDash":[18,1000],"labels":false,"title":null}},
   "y":{"field":"j","type":"quantitative","scale":{"domain":[5,15],"reverse":true,"nice":false},"axis":{"orient":"left","values":[6,8,10,12,14],"gridDash":[20,1000],"labels":false,"title":null}},
   "detail":{"field":"k"},"strokeDash":{"field":"iso","type":"nominal","scale":{"domain":["A","B"],"range":[[1,0],[7,4]]},"legend":null},"order":{"value":null}}},
 {"data":{"name":"pts"},"transform":[{"filter":"datum.p==3"}],"mark":{"type":"circle","size":110,"opacity":1,"color":"black","clip":true},
  "encoding":{"x":{"field":"x","type":"quantitative","scale":{"domain":[-0.25,1.708],"nice":false},"axis":{"orient":"top","values":[0,0.5,1,1.5],"gridDash":[18,1000],"labels":false,"title":null}},
   "y":{"field":"j","type":"quantitative","scale":{"domain":[5,15],"reverse":true,"nice":false},"axis":{"orient":"right","values":[6,8,10,12,14],"gridDash":[20,1000],"labels":false,"title":null}}}},
 {"data":{"name":"pts"},"transform":[{"filter":"datum.p==3 && datum.e>0"}],"mark":{"type":"errorbar","ticks":true,"color":"black"},
  "encoding":{"x":{"field":"x","type":"quantitative","scale":{"domain":[-0.25,1.708],"nice":false},"axis":{"orient":"bottom","values":[0.25,0.75,1.25],"gridDash":[9,1000],"labels":false,"title":null}},"xError":{"field":"e"},
   "y":{"field":"j","type":"quantitative","scale":{"domain":[5,15],"reverse":true,"nice":false},"axis":{"orient":"left","values":[7,9,11,13],"gridDash":[10,1000],"labels":false,"title":null}}}},
 {"data":{"name":"lab"},"transform":[{"filter":"datum.p==3"}],"mark":{"type":"text","align":"left","baseline":"alphabetic","font":"Liberation Serif","fontSize":23,"color":"black"},
  "encoding":{"x":{"field":"x","type":"quantitative","scale":{"domain":[-0.25,1.708],"nice":false},"axis":{"orient":"top","values":[0.25,0.75,1.25],"gridDash":[9,1000],"labels":false,"title":null}},
   "y":{"field":"j","type":"quantitative","scale":{"domain":[5,15],"reverse":true,"nice":false},"axis":{"orient":"right","values":[7,9,11,13],"gridDash":[10,1000],"labels":false,"title":null}},"text":{"field":"t"}}}
],"resolve":{"axis":{"x":"independent","y":"independent"}}},

{"width":333,"height":235,"layer":[
 {"data":{"name":"iso"},"transform":[{"filter":"datum.p==4"}],"mark":{"type":"line","clip":true,"color":"black","strokeWidth":1.3},
  "encoding":{"x":{"field":"x","type":"quantitative","scale":{"domain":[-0.25,1.75],"nice":false},"axis":{"orient":"bottom","values":[0,0.5,1,1.5],"gridDash":[18,1000],"labels":false,"title":null}},
   "y":{"field":"j","type":"quantitative","scale":{"domain":[5,15],"reverse":true,"nice":false},"axis":{"orient":"left","values":[6,8,10,12,14],"gridDash":[20,1000],"labelPadding":9,"title":"J","titleAngle":0,"titleX":-49,"titleY":117.5,"titleAlign":"center","titleBaseline":"middle"}},
   "detail":{"field":"k"},"strokeDash":{"field":"iso","type":"nominal","scale":{"domain":["A","B"],"range":[[1,0],[7,4]]},"legend":null},"order":{"value":null}}},
 {"data":{"name":"pts"},"transform":[{"filter":"datum.p==4"}],"mark":{"type":"circle","size":110,"opacity":1,"color":"black"},
  "encoding":{"x":{"field":"x","type":"quantitative","scale":{"domain":[-0.25,1.75],"nice":false},"axis":{"orient":"top","values":[0,0.5,1,1.5],"gridDash":[18,1000],"labels":false,"title":null}},
   "y":{"field":"j","type":"quantitative","scale":{"domain":[5,15],"reverse":true,"nice":false},"axis":{"orient":"right","values":[6,8,10,12,14],"gridDash":[20,1000],"labels":false,"title":null}}}},
 {"data":{"name":"pts"},"transform":[{"filter":"datum.p==4 && datum.e>0"}],"mark":{"type":"errorbar","ticks":true,"color":"black"},
  "encoding":{"x":{"field":"x","type":"quantitative","scale":{"domain":[-0.25,1.75],"nice":false},"axis":{"orient":"bottom","values":[0.25,0.75,1.25],"gridDash":[9,1000],"labels":false,"title":null}},"xError":{"field":"e"},
   "y":{"field":"j","type":"quantitative","scale":{"domain":[5,15],"reverse":true,"nice":false},"axis":{"orient":"left","values":[7,9,11,13],"gridDash":[10,1000],"labels":false,"title":null}}}},
 {"data":{"name":"lab"},"transform":[{"filter":"datum.p==4"}],"mark":{"type":"text","align":"left","baseline":"alphabetic","font":"Liberation Serif","fontSize":23,"color":"black"},
  "encoding":{"x":{"field":"x","type":"quantitative","scale":{"domain":[-0.25,1.75],"nice":false},"axis":{"orient":"top","values":[0.25,0.75,1.25],"gridDash":[9,1000],"labels":false,"title":null}},
   "y":{"field":"j","type":"quantitative","scale":{"domain":[5,15],"reverse":true,"nice":false},"axis":{"orient":"right","values":[7,9,11,13],"gridDash":[10,1000],"labels":false,"title":null}},"text":{"field":"t"}}}
],"resolve":{"axis":{"x":"independent","y":"independent"}}},

{"width":332,"height":235,"layer":[
 {"data":{"name":"iso"},"transform":[{"filter":"datum.p==5"}],"mark":{"type":"line","clip":true,"color":"black","strokeWidth":1.3},
  "encoding":{"x":{"field":"x","type":"quantitative","scale":{"domain":[-0.25,1.75],"nice":false},"axis":{"orient":"bottom","values":[0,0.5,1,1.5],"gridDash":[18,1000],"labels":false,"title":null}},
   "y":{"field":"j","type":"quantitative","scale":{"domain":[5,15],"reverse":true,"nice":false},"axis":{"orient":"left","values":[6,8,10,12,14],"gridDash":[20,1000],"labels":false,"title":null}},
   "detail":{"field":"k"},"strokeDash":{"field":"iso","type":"nominal","scale":{"domain":["A","B"],"range":[[1,0],[7,4]]},"legend":null},"order":{"value":null}}},
 {"data":{"name":"pts"},"transform":[{"filter":"datum.p==5"}],"mark":{"type":"circle","size":110,"opacity":1,"color":"black"},
  "encoding":{"x":{"field":"x","type":"quantitative","scale":{"domain":[-0.25,1.75],"nice":false},"axis":{"orient":"top","values":[0,0.5,1,1.5],"gridDash":[18,1000],"labels":false,"title":null}},
   "y":{"field":"j","type":"quantitative","scale":{"domain":[5,15],"reverse":true,"nice":false},"axis":{"orient":"right","values":[6,8,10,12,14],"gridDash":[20,1000],"labels":false,"title":null}}}},
 {"data":{"name":"pts"},"transform":[{"filter":"datum.p==5 && datum.e>0"}],"mark":{"type":"errorbar","ticks":true,"color":"black"},
  "encoding":{"x":{"field":"x","type":"quantitative","scale":{"domain":[-0.25,1.75],"nice":false},"axis":{"orient":"bottom","values":[0.25,0.75,1.25],"gridDash":[9,1000],"labels":false,"title":null}},"xError":{"field":"e"},
   "y":{"field":"j","type":"quantitative","scale":{"domain":[5,15],"reverse":true,"nice":false},"axis":{"orient":"left","values":[7,9,11,13],"gridDash":[10,1000],"labels":false,"title":null}}}},
 {"data":{"name":"lab"},"transform":[{"filter":"datum.p==5"}],"mark":{"type":"text","align":"left","baseline":"alphabetic","font":"Liberation Serif","fontSize":23,"color":"black"},
  "encoding":{"x":{"field":"x","type":"quantitative","scale":{"domain":[-0.25,1.75],"nice":false},"axis":{"orient":"top","values":[0.25,0.75,1.25],"gridDash":[9,1000],"labels":false,"title":null}},
   "y":{"field":"j","type":"quantitative","scale":{"domain":[5,15],"reverse":true,"nice":false},"axis":{"orient":"right","values":[7,9,11,13],"gridDash":[10,1000],"labels":false,"title":null}},"text":{"field":"t"}}},
 {"data":{"name":"vec"},"mark":{"type":"line","color":"black","strokeWidth":4.5},
  "encoding":{"x":{"field":"x","type":"quantitative","scale":{"domain":[-0.25,1.75],"nice":false},"axis":null},"y":{"field":"j","type":"quantitative","scale":{"domain":[5,15],"reverse":true,"nice":false},"axis":null}}},
 {"data":{"name":"lmc"},"mark":{"type":"text","align":"left","baseline":"alphabetic","font":"Liberation Serif","fontSize":15,"color":"black"},
  "encoding":{"x":{"field":"x","type":"quantitative","scale":{"domain":[-0.25,1.75],"nice":false},"axis":null},"y":{"field":"j","type":"quantitative","scale":{"domain":[5,15],"reverse":true,"nice":false},"axis":null},"text":{"field":"t"}}}
],"resolve":{"axis":{"x":"independent","y":"independent"}}},

{"width":326,"height":235,"layer":[
 {"data":{"name":"iso"},"transform":[{"filter":"datum.p==6"}],"mark":{"type":"line","clip":true,"color":"black","strokeWidth":1.3},
  "encoding":{"x":{"field":"x","type":"quantitative","scale":{"domain":[-0.25,1.708],"nice":false},"axis":{"orient":"bottom","values":[0,0.5,1,1.5],"gridDash":[18,1000],"labels":false,"title":null}},
   "y":{"field":"j","type":"quantitative","scale":{"domain":[5,15],"reverse":true,"nice":false},"axis":{"orient":"left","values":[6,8,10,12,14],"gridDash":[20,1000],"labels":false,"title":null}},
   "detail":{"field":"k"},"strokeDash":{"field":"iso","type":"nominal","scale":{"domain":["A","B"],"range":[[1,0],[7,4]]},"legend":null},"order":{"value":null}}},
 {"data":{"name":"pts"},"transform":[{"filter":"datum.p==6"}],"mark":{"type":"circle","size":110,"opacity":1,"color":"black","clip":true},
  "encoding":{"x":{"field":"x","type":"quantitative","scale":{"domain":[-0.25,1.708],"nice":false},"axis":{"orient":"top","values":[0,0.5,1,1.5],"gridDash":[18,1000],"labels":false,"title":null}},
   "y":{"field":"j","type":"quantitative","scale":{"domain":[5,15],"reverse":true,"nice":false},"axis":{"orient":"right","values":[6,8,10,12,14],"gridDash":[20,1000],"labels":false,"title":null}}}},
 {"data":{"name":"pts"},"transform":[{"filter":"datum.p==6 && datum.e>0"}],"mark":{"type":"errorbar","ticks":true,"color":"black"},
  "encoding":{"x":{"field":"x","type":"quantitative","scale":{"domain":[-0.25,1.708],"nice":false},"axis":{"orient":"bottom","values":[0.25,0.75,1.25],"gridDash":[9,1000],"labels":false,"title":null}},"xError":{"field":"e"},
   "y":{"field":"j","type":"quantitative","scale":{"domain":[5,15],"reverse":true,"nice":false},"axis":{"orient":"left","values":[7,9,11,13],"gridDash":[10,1000],"labels":false,"title":null}}}},
 {"data":{"name":"lab"},"transform":[{"filter":"datum.p==6"}],"mark":{"type":"text","align":"left","baseline":"alphabetic","font":"Liberation Serif","fontSize":23,"color":"black"},
  "encoding":{"x":{"field":"x","type":"quantitative","scale":{"domain":[-0.25,1.708],"nice":false},"axis":{"orient":"top","values":[0.25,0.75,1.25],"gridDash":[9,1000],"labels":false,"title":null}},
   "y":{"field":"j","type":"quantitative","scale":{"domain":[5,15],"reverse":true,"nice":false},"axis":{"orient":"right","values":[7,9,11,13],"gridDash":[10,1000],"labels":false,"title":null}},"text":{"field":"t"}}}
],"resolve":{"axis":{"x":"independent","y":"independent"}}},

{"width":333,"height":235,"layer":[
 {"data":{"name":"iso"},"transform":[{"filter":"datum.p==7"}],"mark":{"type":"line","clip":true,"color":"black","strokeWidth":1.3},
  "encoding":{"x":{"field":"x","type":"quantitative","scale":{"domain":[-0.25,1.75],"nice":false},"axis":{"orient":"bottom","values":[0,0.5,1,1.5],"gridDash":[18,1000],"format":"~g","labelPadding":7,"title":"J - H","titleFontSize":26,"titleY":51,"titleBaseline":"alphabetic"}},
   "y":{"field":"j","type":"quantitative","scale":{"domain":[5,15],"reverse":true,"nice":false},"axis":{"orient":"left","values":[6,8,10,12,14],"gridDash":[20,1000],"labelPadding":9,"title":"J","titleAngle":0,"titleX":-49,"titleY":117.5,"titleAlign":"center","titleBaseline":"middle"}},
   "detail":{"field":"k"},"strokeDash":{"field":"iso","type":"nominal","scale":{"domain":["A","B"],"range":[[1,0],[7,4]]},"legend":null},"order":{"value":null}}},
 {"data":{"name":"pts"},"transform":[{"filter":"datum.p==7"}],"mark":{"type":"circle","size":110,"opacity":1,"color":"black"},
  "encoding":{"x":{"field":"x","type":"quantitative","scale":{"domain":[-0.25,1.75],"nice":false},"axis":{"orient":"top","values":[0,0.5,1,1.5],"gridDash":[18,1000],"labels":false,"title":null}},
   "y":{"field":"j","type":"quantitative","scale":{"domain":[5,15],"reverse":true,"nice":false},"axis":{"orient":"right","values":[6,8,10,12,14],"gridDash":[20,1000],"labels":false,"title":null}}}},
 {"data":{"name":"pts"},"transform":[{"filter":"datum.p==7 && datum.e>0"}],"mark":{"type":"errorbar","ticks":true,"color":"black"},
  "encoding":{"x":{"field":"x","type":"quantitative","scale":{"domain":[-0.25,1.75],"nice":false},"axis":{"orient":"bottom","values":[0.25,0.75,1.25],"gridDash":[9,1000],"labels":false,"title":null}},"xError":{"field":"e"},
   "y":{"field":"j","type":"quantitative","scale":{"domain":[5,15],"reverse":true,"nice":false},"axis":{"orient":"left","values":[7,9,11,13],"gridDash":[10,1000],"labels":false,"title":null}}}},
 {"data":{"name":"lab"},"transform":[{"filter":"datum.p==7"}],"mark":{"type":"text","align":"left","baseline":"alphabetic","font":"Liberation Serif","fontSize":23,"color":"black"},
  "encoding":{"x":{"field":"x","type":"quantitative","scale":{"domain":[-0.25,1.75],"nice":false},"axis":{"orient":"top","values":[0.25,0.75,1.25],"gridDash":[9,1000],"labels":false,"title":null}},
   "y":{"field":"j","type":"quantitative","scale":{"domain":[5,15],"reverse":true,"nice":false},"axis":{"orient":"right","values":[7,9,11,13],"gridDash":[10,1000],"labels":false,"title":null}},"text":{"field":"t"}}}
],"resolve":{"axis":{"x":"independent","y":"independent"}}},

{"width":332,"height":235,"layer":[
 {"data":{"name":"iso"},"transform":[{"filter":"datum.p==8"}],"mark":{"type":"line","clip":true,"color":"black","strokeWidth":1.3},
  "encoding":{"x":{"field":"x","type":"quantitative","scale":{"domain":[-0.25,1.75],"nice":false},"axis":{"orient":"bottom","values":[0,0.5,1,1.5],"gridDash":[18,1000],"format":"~g","labelPadding":7,"title":"J - H","titleFontSize":26,"titleY":51,"titleBaseline":"alphabetic"}},
   "y":{"field":"j","type":"quantitative","scale":{"domain":[5,15],"reverse":true,"nice":false},"axis":{"orient":"left","values":[6,8,10,12,14],"gridDash":[20,1000],"labels":false,"title":null}},
   "detail":{"field":"k"},"strokeDash":{"field":"iso","type":"nominal","scale":{"domain":["A","B"],"range":[[1,0],[7,4]]},"legend":null},"order":{"value":null}}},
 {"data":{"name":"pts"},"transform":[{"filter":"datum.p==8"}],"mark":{"type":"circle","size":110,"opacity":1,"color":"black"},
  "encoding":{"x":{"field":"x","type":"quantitative","scale":{"domain":[-0.25,1.75],"nice":false},"axis":{"orient":"top","values":[0,0.5,1,1.5],"gridDash":[18,1000],"labels":false,"title":null}},
   "y":{"field":"j","type":"quantitative","scale":{"domain":[5,15],"reverse":true,"nice":false},"axis":{"orient":"right","values":[6,8,10,12,14],"gridDash":[20,1000],"labels":false,"title":null}}}},
 {"data":{"name":"pts"},"transform":[{"filter":"datum.p==8 && datum.e>0"}],"mark":{"type":"errorbar","ticks":true,"color":"black"},
  "encoding":{"x":{"field":"x","type":"quantitative","scale":{"domain":[-0.25,1.75],"nice":false},"axis":{"orient":"bottom","values":[0.25,0.75,1.25],"gridDash":[9,1000],"labels":false,"title":null}},"xError":{"field":"e"},
   "y":{"field":"j","type":"quantitative","scale":{"domain":[5,15],"reverse":true,"nice":false},"axis":{"orient":"left","values":[7,9,11,13],"gridDash":[10,1000],"labels":false,"title":null}}}},
 {"data":{"name":"lab"},"transform":[{"filter":"datum.p==8"}],"mark":{"type":"text","align":"left","baseline":"alphabetic","font":"Liberation Serif","fontSize":23,"color":"black"},
  "encoding":{"x":{"field":"x","type":"quantitative","scale":{"domain":[-0.25,1.75],"nice":false},"axis":{"orient":"top","values":[0.25,0.75,1.25],"gridDash":[9,1000],"labels":false,"title":null}},
   "y":{"field":"j","type":"quantitative","scale":{"domain":[5,15],"reverse":true,"nice":false},"axis":{"orient":"right","values":[7,9,11,13],"gridDash":[10,1000],"labels":false,"title":null}},"text":{"field":"t"}}}
],"resolve":{"axis":{"x":"independent","y":"independent"}}},

{"width":326,"height":235,"layer":[
 {"data":{"name":"iso"},"transform":[{"filter":"datum.p==9"}],"mark":{"type":"line","clip":true,"color":"black","strokeWidth":1.3},
  "encoding":{"x":{"field":"x","type":"quantitative","scale":{"domain":[-0.25,1.708],"nice":false},"axis":{"orient":"bottom","values":[0,0.5,1,1.5],"gridDash":[18,1000],"format":"~g","labelPadding":7,"title":"J - H","titleFontSize":26,"titleY":51,"titleBaseline":"alphabetic"}},
   "y":{"field":"j","type":"quantitative","scale":{"domain":[5,15],"reverse":true,"nice":false},"axis":{"orient":"left","values":[6,8,10,12,14],"gridDash":[20,1000],"labels":false,"title":null}},
   "detail":{"field":"k"},"strokeDash":{"field":"iso","type":"nominal","scale":{"domain":["A","B"],"range":[[1,0],[7,4]]},"legend":null},"order":{"value":null}}},
 {"data":{"name":"pts"},"transform":[{"filter":"datum.p==9"}],"mark":{"type":"circle","size":110,"opacity":1,"color":"black","clip":true},
  "encoding":{"x":{"field":"x","type":"quantitative","scale":{"domain":[-0.25,1.708],"nice":false},"axis":{"orient":"top","values":[0,0.5,1,1.5],"gridDash":[18,1000],"labels":false,"title":null}},
   "y":{"field":"j","type":"quantitative","scale":{"domain":[5,15],"reverse":true,"nice":false},"axis":{"orient":"right","values":[6,8,10,12,14],"gridDash":[20,1000],"labels":false,"title":null}}}},
 {"data":{"name":"pts"},"transform":[{"filter":"datum.p==9 && datum.e>0"}],"mark":{"type":"errorbar","ticks":true,"color":"black"},
  "encoding":{"x":{"field":"x","type":"quantitative","scale":{"domain":[-0.25,1.708],"nice":false},"axis":{"orient":"bottom","values":[0.25,0.75,1.25],"gridDash":[9,1000],"labels":false,"title":null}},"xError":{"field":"e"},
   "y":{"field":"j","type":"quantitative","scale":{"domain":[5,15],"reverse":true,"nice":false},"axis":{"orient":"left","values":[7,9,11,13],"gridDash":[10,1000],"labels":false,"title":null}}}},
 {"data":{"name":"lab"},"transform":[{"filter":"datum.p==9"}],"mark":{"type":"text","align":"left","baseline":"alphabetic","font":"Liberation Serif","fontSize":23,"color":"black"},
  "encoding":{"x":{"field":"x","type":"quantitative","scale":{"domain":[-0.25,1.708],"nice":false},"axis":{"orient":"top","values":[0.25,0.75,1.25],"gridDash":[9,1000],"labels":false,"title":null}},
   "y":{"field":"j","type":"quantitative","scale":{"domain":[5,15],"reverse":true,"nice":false},"axis":{"orient":"right","values":[7,9,11,13],"gridDash":[10,1000],"labels":false,"title":null}},"text":{"field":"t"}}}
],"resolve":{"axis":{"x":"independent","y":"independent"}}}
]
}
